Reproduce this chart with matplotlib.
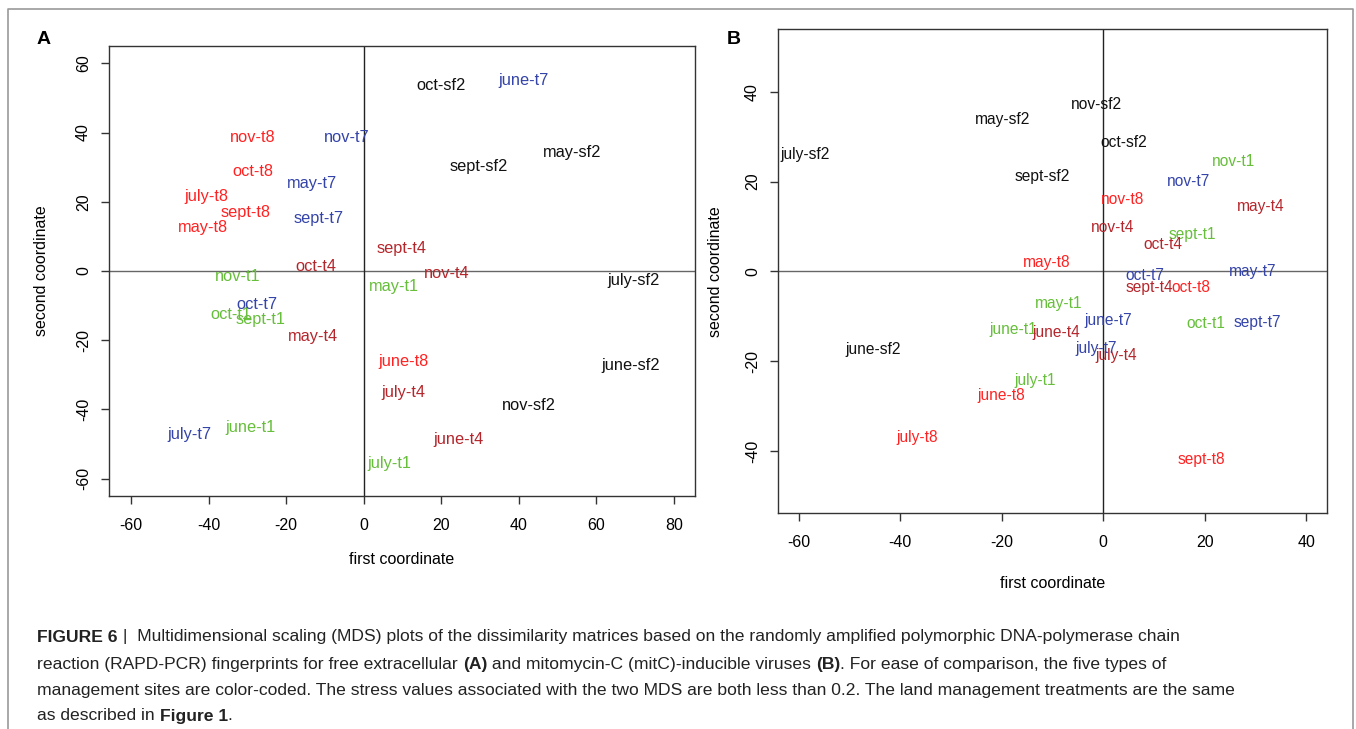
import matplotlib
matplotlib.use('Agg')
import matplotlib.pyplot as plt
from matplotlib.lines import Line2D

plt.rcParams['font.family'] = ['Liberation Sans', 'DejaVu Sans']
plt.rcParams['axes.unicode_minus'] = False  # R usa hifen simples

# meses e tratamentos (mesma ordem em todas as listas)
months = ['may', 'june', 'july', 'sept', 'oct', 'nov']
treatments = ['t1', 't4', 't7', 't8', 'sf2']
colors = {'t1': '#66be3a', 't4': '#b5262c', 't7': '#3444a8',
          't8': '#ff2222', 'sf2': '#111111'}

# Painel A - virus extracelulares livres (x, y por mes)
a_t1_x = [7.7, -29.3, 6.7, -26.7, -34.2, -32.4]
a_t1_y = [-4.6, -45.3, -55.5, -13.9, -12.7, -1.7]
a_t4_x = [-13.2, 24.5, 10.3, 9.8, -12.4, 21.4]
a_t4_y = [-19.0, -48.8, -35.2, 6.6, 1.4, -0.6]
a_t7_x = [-13.4, 41.2, -45.0, -11.6, -27.5, -4.4]
a_t7_y = [25.4, 55.1, -47.3, 15.3, -9.8, 38.7]
a_t8_x = [-41.4, 10.3, -40.7, -30.4, -28.6, -28.6]
a_t8_y = [12.7, -26.2, 21.4, 17.0, 28.6, 38.7]
a_sf2_x = [53.8, 68.7, 69.5, 29.6, 19.8, 42.5]
a_sf2_y = [34.3, -27.4, -2.6, 30.1, 53.7, -39.0]

# Painel B - virus induziveis por mitomicina-C
b_t1_x = [-8.7, -17.7, -13.4, 17.5, 20.3, 25.6]
b_t1_y = [-7.1, -12.9, -24.3, 8.2, -11.6, 24.5]
b_t4_x = [31.1, -9.3, 2.5, 9.1, 11.8, 1.8]
b_t4_y = [14.5, -13.5, -18.7, -3.6, 6.0, 9.8]
b_t7_x = [29.4, 1.0, -1.4, 30.3, 8.1, 16.9]
b_t7_y = [0.0, -10.9, -17.2, -11.4, -0.9, 20.0]
b_t8_x = [-11.2, -20.1, -36.6, 19.3, 17.3, 3.9]
b_t8_y = [2.0, -27.6, -37.0, -41.9, -3.6, 16.0]
b_sf2_x = [-19.9, -45.3, -58.7, -12.0, 4.1, -1.4]
b_sf2_y = [33.9, -17.4, 26.1, 21.2, 28.7, 37.2]

panel_a = {'t1': (a_t1_x, a_t1_y), 't4': (a_t4_x, a_t4_y), 't7': (a_t7_x, a_t7_y),
           't8': (a_t8_x, a_t8_y), 'sf2': (a_sf2_x, a_sf2_y)}
panel_b = {'t1': (b_t1_x, b_t1_y), 't4': (b_t4_x, b_t4_y), 't7': (b_t7_x, b_t7_y),
           't8': (b_t8_x, b_t8_y), 'sf2': (b_sf2_x, b_sf2_y)}

a_xticks = [-60, -40, -20, 0, 20, 40, 60, 80]
a_yticks = [-60, -40, -20, 0, 20, 40, 60]
b_xticks = [-60, -40, -20, 0, 20, 40]
b_yticks = [-40, -20, 0, 20, 40]

W, H = 1356, 729
fig = plt.figure(figsize=(W / 100, H / 100), dpi=100)


def px_box(left, top, right, bottom):
    return [left / W, 1 - bottom / H, (right - left) / W, (bottom - top) / H]


def mds_panel(rect, data, xlim, ylim, xticks, yticks, fs):
    ax = fig.add_axes(rect)
    for t in treatments:
        xs, ys = data[t]
        for m, x, y in zip(months, xs, ys):
            ax.text(x, y, f'{m}-{t}', color=colors[t], fontsize=fs,
                    ha='center', va='center')
    ax.axhline(0, color='#666666', lw=1)
    ax.axvline(0, color='#222222', lw=1)
    ax.set_xlim(xlim)
    ax.set_ylim(ylim)
    ax.set_xticks(xticks)
    ax.set_yticks(yticks)
    ax.tick_params(direction='out', length=6, width=1, color='#333333',
                   labelsize=11.5)
    ax.tick_params(axis='x', pad=10)
    ax.tick_params(axis='y', pad=7)
    for lab in ax.get_yticklabels():
        lab.set_rotation(90)
        lab.set_va('center')
    for s in ax.spines.values():
        s.set_color('#333333')
        s.set_linewidth(1)
    return ax


mds_panel(px_box(109, 46, 695, 496), panel_a, (-65.7, 85.4), (-65, 65),
          a_xticks, a_yticks, 11.8)
mds_panel(px_box(778, 29, 1327, 513), panel_b, (-64.1, 44.1), (-53.8, 54.0),
          b_xticks, b_yticks, 11.2)

# titulos dos eixos
fig.text(402 / W, 1 - 559 / H, 'first coordinate', ha='center', va='center', fontsize=11.5)
fig.text(1053 / W, 1 - 583 / H, 'first coordinate', ha='center', va='center', fontsize=11.5)
fig.text(42 / W, 1 - 271 / H, 'second coordinate', ha='center', va='center',
         rotation=90, fontsize=11.5)
fig.text(715 / W, 1 - 272 / H, 'second coordinate', ha='center', va='center',
         rotation=90, fontsize=11.5)

# letras dos paineis
fig.text(44 / W, 1 - 39 / H, 'A', ha='center', va='center', fontsize=14, fontweight='bold')
fig.text(734 / W, 1 - 39 / H, 'B', ha='center', va='center', fontsize=14, fontweight='bold')

# moldura cinza aberta em baixo
frame = [(8, H), (8, 9), (1353, 9), (1353, H)]
fig.add_artist(Line2D([p[0] / W for p in frame], [1 - p[1] / H for p in frame],
                      color='#999999', lw=1.2))

# legenda da figura, com trechos em negrito
caption = [
    [('FIGURE 6', True), (' |  Multidimensional scaling (MDS) plots of the dissimilarity matrices based on the randomly amplified polymorphic DNA-polymerase chain', False)],
    [('reaction (RAPD-PCR) fingerprints for free extracellular ', False), ('(A)', True),
     (' and mitomycin-C (mitC)-inducible viruses ', False), ('(B)', True),
     ('. For ease of comparison, the five types of', False)],
    [('management sites are color-coded. The stress values associated with the two MDS are both less than 0.2. The land management treatments are the same', False)],
    [('as described in ', False), ('Figure 1', True), ('.', False)],
]
line_y = [637, 664, 690, 716]
renderer = fig.canvas.get_renderer()
for runs, yy in zip(caption, line_y):
    x = 37
    for txt, bold in runs:
        t = fig.text(x / W, 1 - yy / H, txt, ha='left', va='center', fontsize=12.6,
                     color='#222222', fontweight='bold' if bold else 'normal')
        x += t.get_window_extent(renderer).width

fig.savefig('out.png', dpi=100)
